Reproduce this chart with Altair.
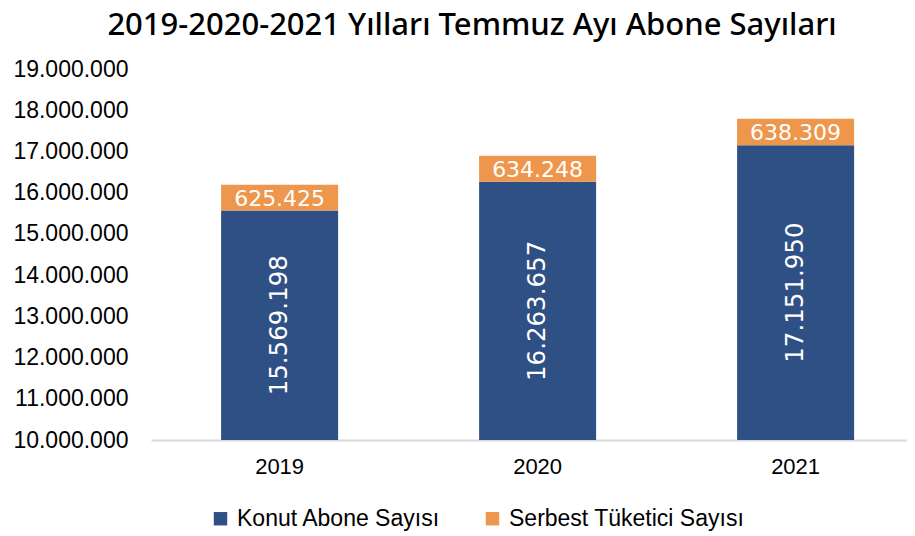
import altair as alt
import pandas as pd

years = ["2019", "2020", "2021"]
konut = [15569198, 16263657, 17151950]
serbest = [625425, 634248, 638309]
series = ["Konut Abone Sayısı", "Serbest Tüketici Sayısı"]
colors = ["#2F5085", "#ED964C"]
y_min, y_max = 10000000, 19000000

rows = []
for yr, k, s in zip(years, konut, serbest):
    rows.append({"year": yr, "series": series[0], "lo": 0, "hi": k, "value": k,
                 "mid": (y_min + k) / 2, "order": 0})
    rows.append({"year": yr, "series": series[1], "lo": k, "hi": k + s, "value": s,
                 "mid": k + s / 2, "order": 1})
df = pd.DataFrame(rows)

x_enc = alt.X("year:N", title=None,
              scale=alt.Scale(paddingInner=0.5465, paddingOuter=0.2384, align=0.57),
              axis=alt.Axis(labelAngle=0, ticks=False, domainColor="#D9D9D9", domainWidth=2,
                            labelFont="Liberation Sans", labelFontSize=22, labelColor="#000000",
                            labelPadding=16))
y_scale = alt.Scale(domain=[y_min, y_max], nice=False, zero=False)

bars = alt.Chart(df).mark_bar(clip=True).encode(
    x=x_enc,
    y=alt.Y("lo:Q", scale=y_scale, title=None,
            axis=alt.Axis(values=list(range(y_min, y_max + 1, 1000000)), format=",d",
                          grid=False, domain=False, ticks=False, labelFont="Liberation Sans",
                          labelFontSize=23, labelColor="#000000", labelPadding=23)),
    y2="hi:Q",
    color=alt.Color("series:N", scale=alt.Scale(domain=series, range=colors),
                    legend=alt.Legend(title=None, orient="none", legendX=58, legendY=438,
                                      direction="horizontal",
                                      symbolType="square", symbolSize=180, symbolStrokeWidth=0,
                                      labelFont="Liberation Sans", labelFontSize=23,
                                      labelLimit=0, labelOffset=5,
                                      labelColor="#000000", columnPadding=40)),
    order="order:Q",
)

konut_labels = alt.Chart(df).transform_filter(alt.datum.order == 0).mark_text(
    angle=270, color="white", font="DejaVu Sans", fontSize=24.5
).encode(x="year:N", y="mid:Q", text=alt.Text("value:Q", format=",d"))

serbest_labels = alt.Chart(df).transform_filter(alt.datum.order == 1).mark_text(
    color="white", font="DejaVu Sans", fontSize=22, dy=1
).encode(x="year:N", y="mid:Q", text=alt.Text("value:Q", format=",d"))

chart = alt.layer(bars, konut_labels, serbest_labels).properties(
    width=756, height=371,
    padding={"left": 4, "right": 0, "top": 2, "bottom": 0},
    title=alt.Title("2019-2020-2021 Yılları Temmuz Ayı Abone Sayıları", font="Noto Sans",
                    fontSize=31, fontWeight=500, color="#000000", anchor="middle", offset=16,
                    dx=-57),
).configure_view(stroke="transparent", strokeWidth=0)

chart.save("out.html", embed_options={"renderer": "svg", "actions": False,
                                      "formatLocale": {"decimal": ",", "thousands": ".",
                                                       "grouping": [3], "currency": ["", " ₺"]}})
